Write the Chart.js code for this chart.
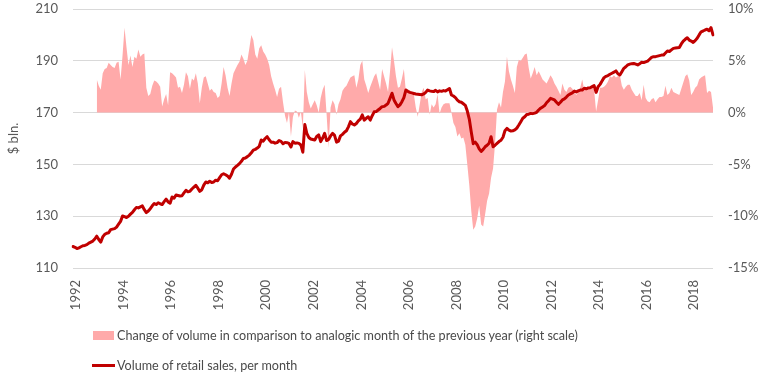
<!DOCTYPE html>
<html>
<head>
<meta charset="utf-8">
<script src="https://cdn.jsdelivr.net/npm/chart.js@4.4.1/dist/chart.umd.min.js"></script>
<style>
  html, body { margin: 0; padding: 0; background: #fff; }
  #wrap { position: relative; width: 763px; height: 381px; overflow: hidden; }
  #c { position: absolute; left: 0; top: 0; }
  #legend { position: absolute; left: 92px; top: 325px; font-family: Lato, "Open Sans", sans-serif; font-size: 12.6px; color: #4a4a4a; }
  .item { position: relative; height: 30px; line-height: 20px; white-space: nowrap; }
  .sw { display: inline-block; vertical-align: middle; margin-right: 3px; }
</style>
</head>
<body>
<div id="wrap">
  <canvas id="c" width="763" height="381"></canvas>
  <div id="legend"></div>
</div>
<script>
// ---- data ----
const firstYear = 1992;
const lastYear = 2018;
const yearTicks = ['1992','1994','1996','1998','2000','2002','2004','2006','2008','2010','2012','2014','2016','2018'];

// Volume of retail sales, $ bln per month, Jan 1992 .. Dec 2018
const retailSales = [
  118.3,118.0,117.5,117.8,118.2,118.6,118.7,119.0,119.6,120.0,120.4,121.2, // 1992
  122.3,121.0,120.0,122.0,123.0,123.4,123.6,124.8,125.0,125.2,125.8,126.9, // 1993
  128.0,130.1,129.8,129.5,130.0,130.8,131.5,132.5,133.4,133.2,133.6,134.0, // 1994
  132.5,131.4,132.0,132.9,134.0,134.9,134.5,135.2,134.8,134.5,135.6,136.6, // 1995
  135.5,135.0,137.4,137.0,138.2,138.0,137.8,137.9,139.0,140.0,139.4,139.6, // 1996
  140.5,141.2,141.9,140.8,139.6,140.2,142.0,143.2,142.9,143.5,143.0,143.2, // 1997
  143.9,143.7,144.9,146.0,146.4,146.0,145.5,144.7,146.2,148.2,149.0,149.6, // 1998
  150.3,151.2,152.3,152.5,153.0,153.6,154.5,155.5,155.8,156.3,157.0,159.4, // 1999
  159.0,160.0,160.7,159.5,158.6,158.6,158.2,158.4,159.2,158.9,158.0,158.5, // 2000
  158.4,158.1,156.7,158.8,158.2,158.3,158.1,157.5,154.7,165.4,162.0,160.4, // 2001
  159.8,159.6,159.4,160.8,161.4,158.8,160.2,162.0,159.2,159.6,161.0,162.0, // 2002
  161.2,158.6,159.0,161.0,161.6,162.4,163.0,164.5,166.5,165.6,165.2,165.8, // 2003
  166.8,167.5,169.1,167.1,167.8,168.4,167.1,168.8,170.3,170.4,171.0,171.6, // 2004
  172.3,172.4,172.9,173.6,175.5,177.5,174.9,173.5,172.3,173.0,174.2,175.8, // 2005
  178.7,178.2,177.8,177.6,177.4,177.2,177.1,177.0,176.9,177.2,177.8,178.7, // 2006
  178.4,178.2,178.1,178.6,178.0,178.4,178.2,178.5,178.3,178.8,179.3,176.8, // 2007
  176.4,175.8,174.8,174.2,174.0,173.4,172.8,170.6,167.5,162.5,158.0,158.6, // 2008
  157.6,156.0,155.0,155.8,156.8,157.4,158.2,160.7,156.8,157.4,158.1,158.8, // 2009
  159.3,160.5,163.0,163.9,163.2,162.9,163.0,163.3,164.0,165.2,166.5,167.8, // 2010
  168.4,169.3,169.4,169.7,169.6,169.8,170.1,171.0,171.7,172.2,172.7,173.8, // 2011
  174.6,175.5,175.2,174.9,174.0,173.2,174.0,174.9,175.3,176.0,176.8,177.2, // 2012
  177.6,178.3,178.0,178.4,178.7,178.7,179.4,179.2,179.5,179.6,180.0,180.4, // 2013
  177.8,180.0,180.9,182.2,183.5,184.0,184.3,184.8,185.2,185.6,186.1,185.0, // 2014
  184.5,185.8,187.1,187.7,188.4,188.7,188.9,189.0,188.7,188.4,188.9,189.4, // 2015
  189.3,189.6,189.9,190.6,191.3,191.6,191.6,191.8,192.0,192.2,192.2,193.0, // 2016
  193.8,193.6,194.2,194.8,194.9,195.0,195.1,196.5,197.6,198.3,198.9,198.0, // 2017
  197.6,197.1,197.8,198.7,200.0,201.2,201.5,201.9,202.2,201.6,202.8,200.0  // 2018
];

// Change vs same month of previous year, %, Jan 1993 .. Dec 2018
const yoyChange = [
  3.2,2.6,2.2,3.8,4.2,4.3,4.8,4.6,4.4,4.3,4.8,4.9,        // 1993
  3.2,5.5,8.2,6.3,4.6,5.5,4.4,5.4,5.2,6.1,5.4,5.6,        // 1994
  5.7,2.4,1.6,1.8,2.6,3.1,3.0,2.8,2.5,0.6,1.3,1.8,        // 1995
  0.7,3.9,3.8,3.6,3.4,2.4,2.5,1.9,2.7,3.9,3.5,2.3,        // 1996
  3.3,3.1,3.8,2.8,0.9,2.4,3.4,3.5,2.8,2.1,2.3,2.0,        // 1997
  1.9,1.4,1.6,2.8,4.4,3.6,2.4,1.6,2.8,3.8,4.2,4.6,        // 1998
  4.9,5.6,5.2,4.6,5.0,6.2,7.5,7.0,5.6,5.2,6.2,6.5,        // 1999
  5.9,5.6,5.2,4.6,3.5,2.8,2.2,1.5,2.3,2.5,1.0,-0.3,       // 2000
  -1.0,0.0,-2.3,-0.4,0.2,0.1,-0.5,0.1,-1.5,4.1,2.0,1.0,   // 2001
  0.4,0.8,1.2,0.7,0.0,1.4,2.2,2.7,-0.2,-3.4,0.5,1.2,      // 2002
  0.8,-0.2,0.8,1.3,2.1,2.4,2.6,3.0,3.4,3.5,3.6,2.4,       // 2003
  3.2,4.6,5.0,3.2,2.6,1.9,2.5,3.0,3.5,3.8,3.0,2.2,        // 2004
  4.2,3.5,2.8,2.0,4.0,6.3,5.0,3.5,2.4,2.5,3.3,4.2,        // 2005
  2.0,2.0,1.9,1.9,1.8,0.5,-0.4,0.8,2.0,2.4,1.3,1.4,       // 2006
  -0.2,0.8,0.5,0.8,1.8,-0.1,0.5,0.8,0.9,0.9,0.9,0.0,      // 2007
  -1.0,-1.4,-2.3,-2.0,-2.5,-2.4,-3.1,-5.0,-7.0,-9.5,-11.3,-11.0, // 2008
  -10.2,-9.0,-10.8,-11.0,-9.8,-8.5,-7.8,-6.3,-5.4,-3.0,0.3,1.0,  // 2009
  0.5,2.0,3.0,5.4,4.0,3.2,2.6,1.9,4.4,5.1,5.0,5.3,        // 2010
  5.6,5.7,4.3,3.3,3.8,4.4,3.6,4.0,3.6,3.2,3.0,2.8,        // 2011
  3.2,3.6,3.3,2.8,2.5,2.1,1.7,2.8,2.2,2.0,2.4,2.5,        // 2012
  2.3,2.0,1.7,2.0,2.4,3.2,2.2,2.3,2.2,2.3,2.5,2.2,        // 2013
  0.1,1.2,2.4,2.4,2.5,2.7,3.0,3.5,3.4,3.6,3.4,3.5,        // 2014
  3.6,2.6,2.2,2.5,2.7,2.7,2.2,1.9,1.6,1.6,1.9,1.2,        // 2015
  2.7,1.4,1.1,1.0,1.3,1.4,1.0,1.3,1.5,1.5,1.6,2.6,        // 2016
  1.7,1.9,2.4,2.0,1.9,1.8,1.7,2.3,2.9,3.5,3.7,3.1,        // 2017
  1.7,2.0,2.4,2.6,3.2,3.4,3.5,3.6,1.9,2.1,2.0,0.5         // 2018
];

const seriesNames = [
  'Change of volume in comparison to analogic month of the previous year (right scale)',
  'Volume of retail sales, per month'
];

// ---- build chart ----
const months = [];
for (let y = firstYear; y <= lastYear; y++) {
  for (let m = 1; m <= 12; m++) months.push(y + '-' + String(m).padStart(2, '0'));
}
const yoyAligned = new Array(12).fill(null).concat(yoyChange);

const fontFamily = 'Lato, "Open Sans", sans-serif';
const tickColor = '#595959';
const gridColor = '#D9D9D9';
const pink = 'rgb(255,170,170)';
const red = '#C00000';

function noVertPad(s) { s.paddingTop = 0; s.paddingBottom = 0; }

const chart = new Chart(document.getElementById('c'), {
  type: 'line',
  data: {
    labels: months,
    datasets: [
      {
        label: seriesNames[0],
        data: yoyAligned,
        yAxisID: 'y1',
        fill: 'origin',
        backgroundColor: pink,
        borderColor: pink,
        borderWidth: 0,
        pointRadius: 0,
        tension: 0,
        order: 2
      },
      {
        label: seriesNames[1],
        data: retailSales,
        yAxisID: 'y',
        fill: false,
        borderColor: red,
        backgroundColor: red,
        borderWidth: 3,
        borderJoinStyle: 'round',
        borderCapStyle: 'round',
        pointRadius: 0,
        tension: 0,
        order: 1
      }
    ]
  },
  options: {
    responsive: false,
    animation: false,
    devicePixelRatio: 1,
    layout: { padding: { top: 9, right: 0, bottom: 0, left: 0 } },
    plugins: { legend: { display: false }, tooltip: { enabled: false } },
    scales: {
      x: {
        type: 'category',
        offset: false,
        grid: { display: false, drawTicks: false },
        border: { display: false },
        ticks: {
          autoSkip: false,
          minRotation: 90,
          maxRotation: 90,
          padding: 12,
          labelOffset: 3,
          color: tickColor,
          font: { family: fontFamily, size: 13 },
          callback: function (value, index) {
            const lab = this.getLabelForValue(value);
            const yr = lab.slice(0, 4);
            return (lab.endsWith('-01') && yearTicks.includes(yr)) ? yr : null;
          }
        },
        afterFit: (s) => { s.height = 113; s.paddingLeft = 0; s.paddingRight = 0; }
      },
      y: {
        position: 'left',
        min: 110, max: 210,
        grid: { color: gridColor, lineWidth: 1, drawTicks: false },
        border: { display: false },
        ticks: { stepSize: 20, padding: 15, color: tickColor, font: { family: fontFamily, size: 13 } },
        title: { display: true, text: '$ bln.', color: tickColor, font: { family: fontFamily, size: 13 }, padding: { top: 6, bottom: 0 } },
        afterFit: (s) => { s.width = 73; noVertPad(s); }
      },
      y1: {
        position: 'right',
        min: -15, max: 10,
        grid: { drawOnChartArea: false, drawTicks: false },
        border: { display: false },
        ticks: { stepSize: 5, padding: 15, color: tickColor, font: { family: fontFamily, size: 13 }, callback: (v) => v + '%' },
        afterFit: (s) => { s.width = 50; noVertPad(s); }
      }
    }
  }
});

// ---- legend (HTML, from dataset labels) ----
const legend = document.getElementById('legend');
chart.data.datasets.forEach((ds, i) => {
  const item = document.createElement('div');
  item.className = 'item';
  const sw = document.createElement('span');
  sw.className = 'sw';
  if (i === 0) {
    sw.style.width = '21px'; sw.style.height = '9px'; sw.style.background = ds.backgroundColor;
    sw.style.marginLeft = '1px';
  } else {
    sw.style.width = '23px'; sw.style.height = '3px'; sw.style.background = ds.borderColor;
    sw.style.marginRight = '2px';
  }
  const tx = document.createElement('span');
  tx.textContent = ds.label;
  tx.style.verticalAlign = 'middle';
  item.appendChild(sw);
  item.appendChild(tx);
  legend.appendChild(item);
});
</script>
</body>
</html>
